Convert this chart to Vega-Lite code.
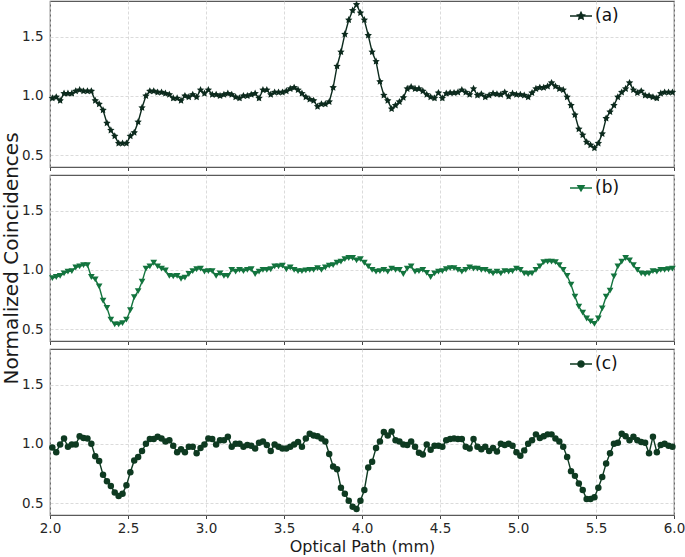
{
"$schema": "https://vega.github.io/schema/vega-lite/v6.json",
"background": "white",
"padding": {"left": 0, "top": 0, "right": 0, "bottom": 2},
"spacing": 8,
"bounds": "flush",
"resolve": {"scale": {"color": "independent"}, "legend": {"color": "independent"}},
"config": {
  "font": "DejaVu Sans",
  "view": {"stroke": "#5a5a5a", "strokeWidth": 1.2},
  "axis": {"gridColor": "#d2d2d2", "gridDash": [3, 2], "gridWidth": 0.8, "domain": false, "labelFontSize": 13.5, "labelColor": "#262626", "labelFont": "DejaVu Sans", "titleFont": "DejaVu Sans", "titleFontWeight": "normal", "titleColor": "#1a1a1a"},
  "axisX": {"tickSize": 3.5, "tickColor": "#444", "tickWidth": 1, "labelPadding": 3, "labelFlush": false},
  "axisY": {"ticks": false, "labelPadding": 7},
  "legend": {"labelFont": "DejaVu Sans", "labelFontSize": 17, "labelColor": "#111", "labelOffset": 2, "padding": 0, "symbolSize": 484, "symbolStrokeWidth": 1.4}
},
"datasets": {"d": [
{"x":2.015,"a":0.98,"b":0.93,"c":0.97},
{"x":2.04,"a":0.99,"b":0.94,"c":0.93},
{"x":2.065,"a":0.96,"b":0.95,"c":0.995},
{"x":2.09,"a":1.02,"b":0.97,"c":1.045},
{"x":2.115,"a":1.02,"b":0.985,"c":0.975},
{"x":2.14,"a":1.02,"b":0.99,"c":0.995},
{"x":2.165,"a":1.04,"b":1.02,"c":0.995},
{"x":2.19,"a":1.05,"b":1.03,"c":1.065},
{"x":2.215,"a":1.04,"b":1.04,"c":1.05},
{"x":2.24,"a":1.04,"b":1.04,"c":1.045},
{"x":2.265,"a":1.04,"b":0.94,"c":1.0},
{"x":2.29,"a":0.96,"b":0.92,"c":0.895},
{"x":2.315,"a":0.93,"b":0.86,"c":0.855},
{"x":2.34,"a":0.88,"b":0.74,"c":0.74},
{"x":2.365,"a":0.77,"b":0.68,"c":0.685},
{"x":2.39,"a":0.71,"b":0.58,"c":0.645},
{"x":2.415,"a":0.66,"b":0.54,"c":0.59},
{"x":2.44,"a":0.6,"b":0.54,"c":0.56},
{"x":2.465,"a":0.6,"b":0.55,"c":0.58},
{"x":2.49,"a":0.6,"b":0.58,"c":0.65},
{"x":2.515,"a":0.66,"b":0.66,"c":0.76},
{"x":2.54,"a":0.69,"b":0.77,"c":0.86},
{"x":2.565,"a":0.78,"b":0.82,"c":0.89},
{"x":2.59,"a":0.9,"b":0.9,"c":0.94},
{"x":2.615,"a":1.0,"b":1.01,"c":1.0},
{"x":2.64,"a":1.04,"b":1.03,"c":1.04},
{"x":2.665,"a":1.04,"b":1.06,"c":1.04},
{"x":2.69,"a":1.03,"b":1.03,"c":1.06},
{"x":2.715,"a":1.03,"b":1.01,"c":1.045},
{"x":2.74,"a":1.02,"b":0.995,"c":1.02},
{"x":2.765,"a":1.01,"b":0.95,"c":1.03},
{"x":2.79,"a":0.98,"b":0.945,"c":0.985},
{"x":2.815,"a":0.98,"b":0.95,"c":0.93},
{"x":2.84,"a":0.96,"b":0.925,"c":0.955},
{"x":2.865,"a":1.0,"b":0.935,"c":0.93},
{"x":2.89,"a":0.99,"b":0.965,"c":0.975},
{"x":2.915,"a":1.01,"b":0.99,"c":0.975},
{"x":2.94,"a":0.99,"b":1.005,"c":0.92},
{"x":2.965,"a":1.05,"b":1.01,"c":0.965},
{"x":2.99,"a":1.02,"b":0.985,"c":0.995},
{"x":3.015,"a":1.05,"b":0.99,"c":1.045},
{"x":3.04,"a":1.01,"b":0.99,"c":1.04},
{"x":3.065,"a":1.01,"b":0.95,"c":0.995},
{"x":3.09,"a":1.0,"b":0.97,"c":1.03},
{"x":3.115,"a":1.01,"b":0.95,"c":1.03},
{"x":3.14,"a":1.02,"b":0.95,"c":1.06},
{"x":3.165,"a":1.01,"b":1.0,"c":0.975},
{"x":3.19,"a":0.99,"b":0.985,"c":1.0},
{"x":3.215,"a":0.98,"b":1.0,"c":1.0},
{"x":3.24,"a":1.0,"b":0.99,"c":0.975},
{"x":3.265,"a":1.0,"b":1.0,"c":0.99},
{"x":3.29,"a":1.01,"b":1.005,"c":0.985},
{"x":3.315,"a":1.02,"b":0.965,"c":0.96},
{"x":3.34,"a":0.98,"b":0.985,"c":1.01},
{"x":3.365,"a":1.05,"b":1.0,"c":1.02},
{"x":3.39,"a":1.05,"b":1.0,"c":0.99},
{"x":3.415,"a":1.01,"b":1.005,"c":0.94},
{"x":3.44,"a":1.03,"b":1.03,"c":0.995},
{"x":3.465,"a":1.03,"b":1.03,"c":0.975},
{"x":3.49,"a":1.03,"b":1.035,"c":0.96},
{"x":3.515,"a":1.04,"b":1.005,"c":0.96},
{"x":3.54,"a":1.06,"b":1.02,"c":0.975},
{"x":3.565,"a":1.07,"b":1.0,"c":0.995},
{"x":3.59,"a":1.05,"b":0.99,"c":1.015},
{"x":3.615,"a":1.02,"b":0.99,"c":0.975},
{"x":3.64,"a":0.99,"b":0.995,"c":1.045},
{"x":3.665,"a":0.97,"b":1.0,"c":1.085},
{"x":3.69,"a":0.96,"b":1.0,"c":1.07},
{"x":3.715,"a":0.91,"b":1.015,"c":1.065},
{"x":3.74,"a":0.93,"b":1.0,"c":1.045},
{"x":3.765,"a":0.93,"b":1.02,"c":1.02},
{"x":3.79,"a":0.95,"b":1.035,"c":0.915},
{"x":3.815,"a":1.07,"b":1.04,"c":0.81},
{"x":3.84,"a":1.25,"b":1.06,"c":0.785},
{"x":3.865,"a":1.37,"b":1.07,"c":0.63},
{"x":3.89,"a":1.52,"b":1.09,"c":0.58},
{"x":3.915,"a":1.64,"b":1.1,"c":0.52},
{"x":3.94,"a":1.72,"b":1.1,"c":0.47},
{"x":3.965,"a":1.77,"b":1.08,"c":0.45},
{"x":3.99,"a":1.7,"b":1.09,"c":0.52},
{"x":4.015,"a":1.64,"b":1.06,"c":0.61},
{"x":4.04,"a":1.51,"b":1.03,"c":0.8},
{"x":4.065,"a":1.37,"b":1.0,"c":0.85},
{"x":4.09,"a":1.29,"b":0.985,"c":0.965},
{"x":4.115,"a":1.12,"b":0.99,"c":1.02},
{"x":4.14,"a":1.005,"b":1.0,"c":1.1},
{"x":4.165,"a":0.96,"b":0.985,"c":1.07},
{"x":4.19,"a":0.89,"b":1.01,"c":1.105},
{"x":4.215,"a":0.92,"b":1.0,"c":1.03},
{"x":4.24,"a":0.95,"b":1.0,"c":1.02},
{"x":4.265,"a":0.985,"b":0.965,"c":0.995},
{"x":4.29,"a":1.06,"b":1.01,"c":0.99},
{"x":4.315,"a":1.075,"b":1.03,"c":1.02},
{"x":4.34,"a":1.06,"b":0.985,"c":0.975},
{"x":4.365,"a":1.06,"b":0.99,"c":0.925},
{"x":4.39,"a":1.04,"b":1.0,"c":0.91},
{"x":4.415,"a":1.01,"b":0.975,"c":0.995},
{"x":4.44,"a":0.99,"b":0.94,"c":0.95},
{"x":4.465,"a":0.98,"b":0.97,"c":0.985},
{"x":4.49,"a":1.025,"b":0.985,"c":0.985},
{"x":4.515,"a":0.98,"b":0.99,"c":0.975},
{"x":4.54,"a":1.02,"b":1.005,"c":1.03},
{"x":4.565,"a":1.025,"b":1.015,"c":1.04},
{"x":4.59,"a":1.025,"b":1.015,"c":1.045},
{"x":4.615,"a":1.03,"b":1.0,"c":1.04},
{"x":4.64,"a":1.05,"b":0.985,"c":1.04},
{"x":4.665,"a":1.03,"b":1.0,"c":0.975},
{"x":4.69,"a":1.01,"b":1.02,"c":0.96},
{"x":4.715,"a":1.06,"b":1.01,"c":1.04},
{"x":4.74,"a":1.005,"b":1.01,"c":0.975},
{"x":4.765,"a":1.015,"b":1.0,"c":0.955},
{"x":4.79,"a":0.99,"b":1.0,"c":0.975},
{"x":4.815,"a":1.005,"b":0.985,"c":0.94},
{"x":4.84,"a":1.02,"b":0.97,"c":0.965},
{"x":4.865,"a":1.015,"b":0.985,"c":0.935},
{"x":4.89,"a":1.01,"b":0.97,"c":1.0},
{"x":4.915,"a":1.03,"b":0.99,"c":0.99},
{"x":4.94,"a":0.995,"b":0.985,"c":1.0},
{"x":4.965,"a":1.02,"b":0.99,"c":0.985},
{"x":4.99,"a":1.01,"b":1.01,"c":0.93},
{"x":5.015,"a":1.01,"b":1.0,"c":0.9},
{"x":5.04,"a":1.005,"b":0.97,"c":0.945},
{"x":5.065,"a":0.99,"b":0.965,"c":1.0},
{"x":5.09,"a":1.025,"b":0.97,"c":1.03},
{"x":5.115,"a":1.06,"b":1.0,"c":1.08},
{"x":5.14,"a":1.07,"b":1.03,"c":1.05},
{"x":5.165,"a":1.07,"b":1.065,"c":1.065},
{"x":5.19,"a":1.08,"b":1.07,"c":1.08},
{"x":5.215,"a":1.11,"b":1.07,"c":1.08},
{"x":5.24,"a":1.08,"b":1.065,"c":1.045},
{"x":5.265,"a":1.06,"b":1.04,"c":1.02},
{"x":5.29,"a":1.05,"b":1.0,"c":0.975},
{"x":5.315,"a":0.99,"b":0.95,"c":0.89},
{"x":5.34,"a":0.92,"b":0.875,"c":0.77},
{"x":5.365,"a":0.84,"b":0.775,"c":0.73},
{"x":5.39,"a":0.72,"b":0.69,"c":0.665},
{"x":5.415,"a":0.67,"b":0.64,"c":0.61},
{"x":5.44,"a":0.61,"b":0.59,"c":0.535},
{"x":5.465,"a":0.585,"b":0.565,"c":0.535},
{"x":5.49,"a":0.56,"b":0.545,"c":0.55},
{"x":5.515,"a":0.6,"b":0.59,"c":0.63},
{"x":5.54,"a":0.68,"b":0.675,"c":0.72},
{"x":5.565,"a":0.81,"b":0.775,"c":0.835},
{"x":5.59,"a":0.865,"b":0.825,"c":0.92},
{"x":5.615,"a":0.92,"b":0.945,"c":1.0},
{"x":5.64,"a":0.99,"b":1.03,"c":1.01},
{"x":5.665,"a":1.03,"b":1.07,"c":1.085},
{"x":5.69,"a":1.06,"b":1.1,"c":1.065},
{"x":5.715,"a":1.11,"b":1.08,"c":1.03},
{"x":5.74,"a":1.05,"b":1.04,"c":1.06},
{"x":5.765,"a":1.025,"b":1.0,"c":1.03},
{"x":5.79,"a":1.04,"b":0.97,"c":1.015},
{"x":5.815,"a":1.005,"b":0.965,"c":1.01},
{"x":5.84,"a":1.0,"b":0.97,"c":0.92},
{"x":5.865,"a":0.99,"b":0.99,"c":1.06},
{"x":5.89,"a":0.98,"b":0.985,"c":0.93},
{"x":5.915,"a":1.02,"b":1.0,"c":0.99},
{"x":5.94,"a":1.03,"b":1.0,"c":1.0},
{"x":5.965,"a":1.03,"b":1.005,"c":0.985},
{"x":5.99,"a":1.03,"b":1.01,"c":0.975}
]},
"vconcat": [
{
  "width": 624, "height": 166,
  "data": {"name": "d"},
  "mark": {"type": "line", "strokeWidth": 1.4, "point": {"shape": "M0,-1L0.29,-0.4L0.951,-0.309L0.47,0.153L0.588,0.809L0,0.5L-0.588,0.809L-0.47,0.153L-0.951,-0.309L-0.29,-0.4Z", "size": 60, "filled": true, "opacity": 1}},
  "encoding": {
    "x": {"field": "x", "type": "quantitative", "scale": {"domain": [2, 6], "nice": false, "zero": false}, "axis": {"values": [2, 2.5, 3, 3.5, 4, 4.5, 5, 5.5, 6], "labels": false, "title": null}},
    "y": {"field": "a", "type": "quantitative", "scale": {"domain": [0.4, 1.8], "nice": false, "zero": false}, "axis": {"values": [0.5, 1.0, 1.5], "format": ".1f", "title": null}},
    "color": {"datum": "(a)", "scale": {"range": ["#0c2a1d"]}, "legend": {"orient": "none", "legendX": 519, "legendY": 3, "title": null, "symbolType": "M-1,0L1,0M0,-0.33L0.095,-0.13L0.314,-0.1L0.155,0.05L0.194,0.267L0,0.165L-0.194,0.267L-0.155,0.05L-0.314,-0.1L-0.095,-0.13Z", "symbolFillColor": "#0c2a1d", "symbolStrokeColor": "#0c2a1d"}}
  }
},
{
  "width": 624, "height": 166,
  "data": {"name": "d"},
  "mark": {"type": "line", "strokeWidth": 1.4, "point": {"shape": "triangle-down", "size": 45, "filled": true, "opacity": 1}},
  "encoding": {
    "x": {"field": "x", "type": "quantitative", "scale": {"domain": [2, 6], "nice": false, "zero": false}, "axis": {"values": [2, 2.5, 3, 3.5, 4, 4.5, 5, 5.5, 6], "labels": false, "title": null}},
    "y": {"field": "b", "type": "quantitative", "scale": {"domain": [0.4, 1.8], "nice": false, "zero": false}, "axis": {"values": [0.5, 1.0, 1.5], "format": ".1f", "title": "Normalized Coincidences", "titleFontSize": 20, "titlePadding": 0}},
    "color": {"datum": "(b)", "scale": {"range": ["#13743e"]}, "legend": {"orient": "none", "legendX": 519, "legendY": 1, "title": null, "symbolType": "M-1,0L1,0M-0.28,-0.22L0.28,-0.22L0,0.26Z", "symbolFillColor": "#13743e", "symbolStrokeColor": "#13743e"}}
  }
},
{
  "width": 624, "height": 166,
  "data": {"name": "d"},
  "mark": {"type": "line", "strokeWidth": 1.4, "point": {"shape": "circle", "size": 42, "filled": true, "opacity": 1}},
  "encoding": {
    "x": {"field": "x", "type": "quantitative", "scale": {"domain": [2, 6], "nice": false, "zero": false}, "axis": {"values": [2, 2.5, 3, 3.5, 4, 4.5, 5, 5.5, 6], "format": ".1f", "title": "Optical Path (mm)", "titleFontSize": 16, "titlePadding": 3}},
    "y": {"field": "c", "type": "quantitative", "scale": {"domain": [0.4, 1.8], "nice": false, "zero": false}, "axis": {"values": [0.5, 1.0, 1.5], "format": ".1f", "title": null}},
    "color": {"datum": "(c)", "scale": {"range": ["#0e3a21"]}, "legend": {"orient": "none", "legendX": 519, "legendY": 3, "title": null, "symbolType": "M-1,0L1,0M-0.28,0A0.28,0.28,0,1,0,0.28,0A0.28,0.28,0,1,0,-0.28,0Z", "symbolFillColor": "#0e3a21", "symbolStrokeColor": "#0e3a21"}}
  }
}
]
}
